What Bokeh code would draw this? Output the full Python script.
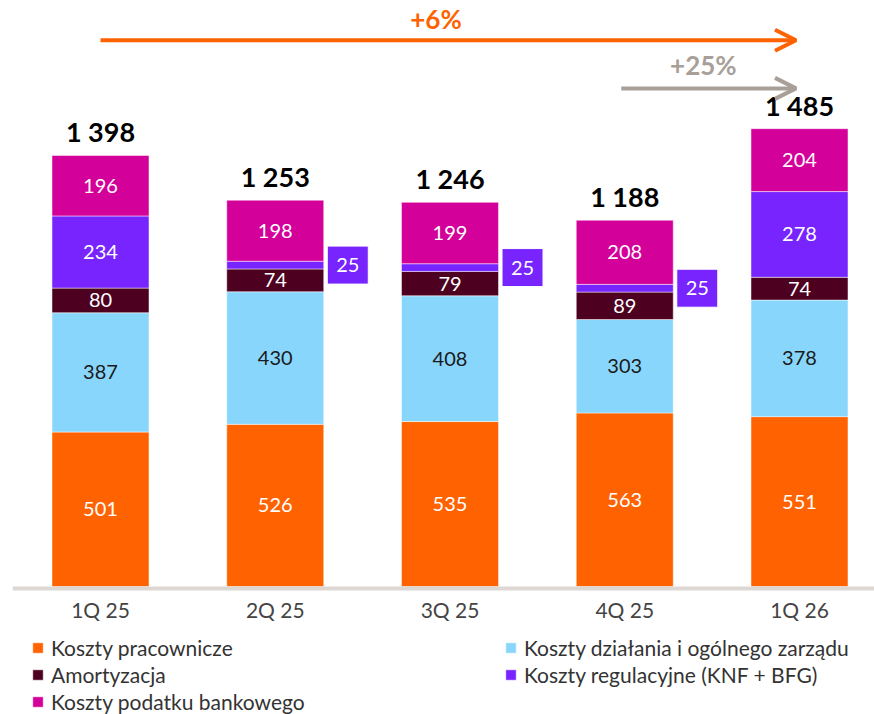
import numpy as np
from bokeh.plotting import figure
from bokeh.models import (Range1d, FixedTicker, ColumnDataSource, Legend, LegendItem,
                          Arrow, OpenHead, Label)
from bokeh.core.properties import value
from bokeh.embed import file_html
from bokeh.resources import INLINE

# ---- data ----
quarters = ["1Q 25", "2Q 25", "3Q 25", "4Q 25", "1Q 26"]
pracownicze = [501, 526, 535, 563, 551]
dzialania = [387, 430, 408, 303, 378]
amortyzacja = [80, 74, 79, 89, 74]
regulacyjne = [234, 25, 25, 25, 278]
podatek = [196, 198, 199, 208, 204]
series_names = ["Koszty pracownicze", "Koszty działania i ogólnego zarządu", "Amortyzacja",
                "Koszty regulacyjne (KNF + BFG)", "Koszty podatku bankowego"]
growth_total = "+6%"
growth_recent = "+25%"

colors = ["#FF6200", "#89D6FD", "#4D0020", "#7724FF", "#D4009A"]
label_colors = ["white", "#1a1a1a", "white", "white", "white"]
FONT = "Lato"

series = [pracownicze, dzialania, amortyzacja, regulacyjne, podatek]
keys = ["s0", "s1", "s2", "s3", "s4"]
idx = list(range(len(quarters)))
data = {"x": idx}
for k, s in zip(keys, series):
    data[k] = s
src = ColumnDataSource(data)

arr = np.array(series, dtype=float)
tops = np.cumsum(arr, axis=0)
bottoms = tops - arr
totals = tops[-1]

W, H = 874, 714
left_border = 12
px_per_unit_x = 174.75
px_per_unit_y = 0.3083
frame_w = W - left_border
frame_h = H
x_start = -88.0 / px_per_unit_x
x_end = x_start + frame_w / px_per_unit_x
y_start = -128.0 / px_per_unit_y
y_end = y_start + frame_h / px_per_unit_y

p = figure(width=W, height=H, x_range=Range1d(x_start, x_end), y_range=Range1d(y_start, y_end),
           output_backend="svg", toolbar_location=None, y_axis_location=None,
           min_border_left=left_border, min_border_right=0, min_border_top=0, min_border_bottom=0)
p.outline_line_color = None
p.xgrid.visible = False
p.ygrid.visible = False
p.background_fill_color = "white"

bar_w = 0.555
renderers = p.vbar_stack(keys, x="x", width=bar_w, source=src, color=colors,
                         line_color="white", line_width=0.8, line_alpha=0.6)

# axis
ax = p.xaxis[0]
ax.fixed_location = -6
ax.ticker = FixedTicker(ticks=idx)
ax.major_label_overrides = {i: q for i, q in zip(idx, quarters)}
ax.axis_line_color = "#DDD8D3"
ax.axis_line_width = 4
ax.major_tick_line_color = None
ax.minor_tick_line_color = None
ax.major_label_text_font = FONT
ax.major_label_text_font_size = "21px"
ax.major_label_text_color = "#444444"
ax.major_label_standoff = 3

# segment labels
lx, ly, lt, lc = [], [], [], []
bx, by, bt = [], [], []
for si, s in enumerate(series):
    for qi in idx:
        v = s[qi]
        cy = (bottoms[si][qi] + tops[si][qi]) / 2
        if v < 50:
            bx.append(qi + 0.415)
            by.append(cy)
            bt.append(str(v))
        else:
            lx.append(qi)
            ly.append(cy)
            lt.append(str(v))
            lc.append(label_colors[si])
p.text(x=lx, y=ly, text=lt, text_color=lc, text_align="center", text_baseline="middle",
       text_font=value(FONT), text_font_size="20px")
p.rect(x=bx, y=by, width=41, height=38, width_units="screen", height_units="screen",
       fill_color=colors[3], line_color="white", line_width=1)
p.text(x=bx, y=by, text=bt, text_color="white", text_align="center", text_baseline="middle",
       text_font=value(FONT), text_font_size="20px")

# totals
tot_txt = [f"{int(t):,}".replace(",", " ") for t in totals]
p.text(x=idx, y=list(totals), text=tot_txt, text_color="black", text_align="center",
       text_baseline="bottom", y_offset=-7, text_font=value(FONT), text_font_size="27px",
       text_font_style="bold")

# growth arrows
ymax = totals.max()
y_orange = ymax * 1.193
y_gray = ymax * 1.088
p.add_layout(Arrow(end=OpenHead(size=21, line_color="#FF6200", line_width=4),
                   x_start=idx[0], y_start=y_orange, x_end=idx[-1] - 0.02, y_end=y_orange,
                   line_color="#FF6200", line_width=4))
p.add_layout(Arrow(end=OpenHead(size=21, line_color="#A8A098", line_width=4),
                   x_start=idx[-2] - 0.02, y_start=y_gray, x_end=idx[-1] - 0.02, y_end=y_gray,
                   line_color="#A8A098", line_width=4))
p.add_layout(Label(x=1.92, y=y_orange, y_offset=5, text=growth_total, text_color="#FF6200",
                   text_font=FONT, text_font_size="26px", text_font_style="bold",
                   text_align="center", text_baseline="bottom"))
p.add_layout(Label(x=3.45, y=y_gray, y_offset=7, text=growth_recent, text_color="#A8A098",
                   text_font=FONT, text_font_size="26px", text_font_style="bold",
                   text_align="center", text_baseline="bottom"))

# legend
order = [0, 2, 4, 1, 3]
items = [LegendItem(label=series_names[i], renderers=[renderers[i]]) for i in order]
legend = Legend(items=items, location=(19, 0), ncols=2, orientation="vertical",
                margin=0, padding=0, spacing=2, border_line_alpha=0, background_fill_alpha=0,
                glyph_width=13, glyph_height=13, label_standoff=7, label_width=451,
                label_text_font=FONT, label_text_font_size="21px", label_text_color="#333333",
                label_height=22)
p.add_layout(legend, "center")

open("out.html", "w").write(file_html(p, INLINE))
